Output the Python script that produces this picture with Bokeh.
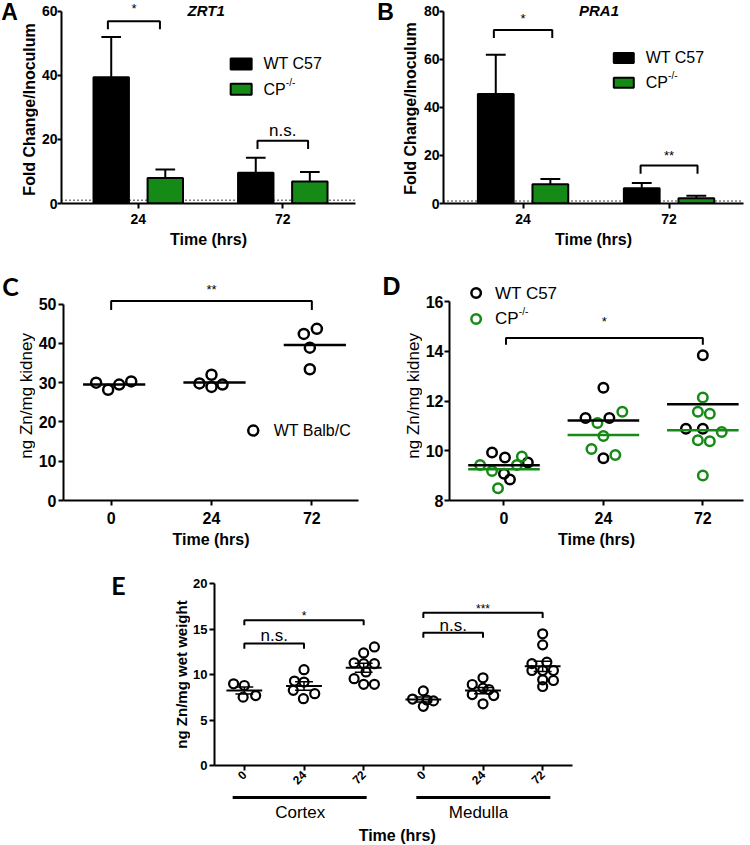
import math
import numpy as np
from bokeh.plotting import figure
from bokeh.layouts import column, row
from bokeh.models import Range1d, FixedTicker, Span
from bokeh.embed import file_html
from bokeh.resources import INLINE
from bokeh.core.properties import value

FONT = "Liberation Sans"
GREEN = "#168a16"

# ---------------- data ----------------
# Panels A / B : fold change / inoculum (mean, SEM)
bar_times = ["24", "72"]
zrt1_wt = [39.4, 9.6]
zrt1_wt_sem = [12.6, 4.7]
zrt1_cp = [8.0, 6.9]
zrt1_cp_sem = [2.6, 2.9]
pra1_wt = [45.6, 6.3]
pra1_wt_sem = [16.3, 2.2]
pra1_cp = [8.0, 2.2]
pra1_cp_sem = [2.2, 1.0]

# Panel C : WT Balb/C kidney zinc
times = ["0", "24", "72"]
balbc = [[30.0, 28.2, 29.5, 30.3],
         [29.8, 32.0, 28.9, 29.5],
         [42.4, 43.7, 38.9, 33.4]]
balbc_jit = [[-0.15, -0.03, 0.08, 0.20],
             [-0.12, 0.0, 0.0, 0.11],
             [-0.08, 0.05, -0.02, -0.02]]

# Panel D : WT C57 vs CP-/- kidney zinc
c57 = [[9.93, 9.73, 9.53, 9.08, 8.85],
       [12.54, 11.32, 11.32, 9.70],
       [13.85, 10.89, 10.89]]
c57_jit = [[-0.12, 0.01, 0.24, 0.0, 0.06],
           [0.0, -0.18, 0.06, 0.0],
           [0.0, -0.17, 0.0]]
cpko = [[9.43, 9.19, 9.77, 9.43, 8.49],
        [11.12, 11.57, 10.60, 10.07, 9.83],
        [12.15, 11.57, 11.49, 10.43, 10.39, 10.76, 9.01]]
cpko_jit = [[-0.24, -0.12, 0.18, 0.13, -0.06],
            [-0.06, 0.19, 0.0, -0.12, 0.12],
            [0.0, -0.05, 0.07, -0.05, 0.07, 0.19, 0.0]]

# Panel E : cortex / medulla zinc
e_regions = ["Cortex", "Medulla"]
e_times = ["0", "24", "72", "0", "24", "72"]
e_vals = [[8.98, 8.79, 7.51, 7.69],
          [10.53, 9.28, 9.17, 8.26, 7.34, 7.89],
          [13.03, 12.37, 11.27, 11.19, 11.19, 10.28, 9.54, 8.92, 8.92],
          [8.2, 7.3, 7.1, 7.2, 6.5],
          [9.64, 8.9, 8.5, 8.35, 7.8, 7.69, 6.78],
          [14.47, 13.26, 11.35, 10.44, 10.44, 10.44, 9.42, 9.34, 8.68, 11.2]]
e_jit = [[-0.18, 0.0, -0.02, 0.19],
         [0.0, -0.16, 0.0, -0.18, -0.01, 0.18],
         [0.18, 0.0, -0.16, 0.0, 0.18, 0.04, -0.16, 0.0, 0.18],
         [0.0, -0.18, 0.17, 0.06, 0.0],
         [0.0, -0.18, 0.0, 0.1, -0.18, 0.18, 0.0],
         [0.0, 0.0, 0.07, -0.18, 0.0, 0.18, 0.0, 0.18, 0.0, -0.18]]

# significance annotations: (x0, x1, bracket y, tick end y, label, label y)
sig_a = [(-0.21, 0.15, 56.9, 54.4, "*", 61.0), (0.825, 1.175, 19.6, 17.0, "n.s.", 22.9)]
sig_b = [(-0.20, 0.20, 72.2, 68.9, "*", 77.0), (0.805, 1.195, 15.8, 12.4, "**", 19.9)]
sig_c = [(0.0, 2.0, 50.8, 48.5, "**", 53.8)]
sig_d = [(0.02, 2.0, 14.54, 14.27, "*", 15.2)]
sig_e = [(0, 2, 15.96, 15.4, "*", 16.45), (0, 1, 13.4, 12.84, "n.s.", 14.3),
         (3, 5, 16.78, 16.2, "***", 17.25), (3, 4, 14.58, 14.03, "n.s.", 15.35)]


# ---------------- helpers ----------------
def make_fig(w, h, xr, yr, mbl, mbr, mbt, mbb):
    p = figure(width=w, height=h, x_range=Range1d(*xr), y_range=Range1d(*yr),
               output_backend="svg", toolbar_location=None, tools="",
               min_border_left=mbl, min_border_right=mbr,
               min_border_top=mbt, min_border_bottom=mbb)
    p.grid.visible = False
    p.outline_line_color = None
    p.background_fill_color = "white"
    p.border_fill_color = "white"
    for ax in p.axis:
        ax.axis_line_width = 2
        ax.axis_line_color = "black"
        ax.major_tick_line_width = 2
        ax.major_tick_line_color = "black"
        ax.major_tick_in = 0
        ax.major_tick_out = 5
        ax.minor_tick_line_color = None
        ax.major_label_text_font = FONT
        ax.major_label_text_font_style = "bold"
        ax.major_label_text_color = "black"
        ax.axis_label_text_font = FONT
        ax.axis_label_text_color = "black"
        ax.axis_label_text_font_style = "bold"
    return p


def strip(w, h, mbt, mbb, s, cx, cy, ylab, ylab_x, ylab_y, ylab_size, ylab_style,
          size="25px", font=FONT):
    """blank figure to the left of a panel: carries the panel letter and the rotated
    y-axis title.  Its frame is aligned with the neighbouring plot's frame, so its
    ranges are expressed in pixels (y measured from the figure bottom)."""
    p = figure(width=w, height=h, x_range=Range1d(0, w), y_range=Range1d(mbb, h - mbt),
               output_backend="svg", toolbar_location=None, tools="",
               x_axis_type=None, y_axis_type=None,
               min_border_left=0, min_border_right=0, min_border_top=mbt, min_border_bottom=mbb)
    p.grid.visible = False
    p.outline_line_color = None
    p.text(x=[cx], y=[h - cy], text=[s], text_font=value(font), text_font_size=value(size),
           text_font_style=value("bold"), text_align=value("center"),
           text_baseline=value("middle"), text_color=value("black"))
    p.text(x=[ylab_x], y=[h - ylab_y], text=[ylab], angle=math.pi / 2,
           text_font=value(FONT), text_font_size=value(ylab_size),
           text_font_style=value(ylab_style), text_align=value("center"),
           text_baseline=value("middle"), text_color=value("black"))
    return p


def txt(p, x, y, s, size, style="normal", align="center", font=FONT,
        color="black", x_off=0, y_off=0):
    p.text(x=[x], y=[y], text=[s], text_font=value(font), text_font_size=value(size),
           text_font_style=value(style), text_align=value(align),
           text_baseline=value("middle"), text_color=value(color),
           x_offset=value(x_off), y_offset=value(y_off))


def brackets(p, sigs, star_size="13px", ns_size="17px"):
    for x0, x1, y, yd, lab, ly in sigs:
        p.line(x=[x0, x0, x1, x1], y=[yd, y, y, yd], line_color="black", line_width=2)
        size = ns_size if lab == "n.s." else star_size
        txt(p, (x0 + x1) / 2, ly, lab, size)


def cp_text(p, x, y, size=16, sup=10):
    txt(p, x, y, "CP", f"{size}px", align="left")
    txt(p, x, y, "-/-", f"{sup}px", align="left", x_off=size * 1.40, y_off=-size * 0.42)


def bar_panel(p, wt, wt_sem, cpv, cp_sem, off=0.187, bw=0.245, capw=0.068):
    x = np.arange(len(wt), dtype=float)
    p.add_layout(Span(location=1, dimension="width", line_color="black",
                      line_width=1.5, line_dash="1 3", level="underlay"))
    wt = np.array(wt); cpv = np.array(cpv)
    wt_top = wt + np.array(wt_sem)
    cp_top = cpv + np.array(cp_sem)
    for xs, top, etop, fill in ((x - off, wt, wt_top, "black"), (x + off, cpv, cp_top, GREEN)):
        p.segment(x0=xs, y0=top, x1=xs, y1=etop, line_color="black", line_width=2)
        p.segment(x0=xs - capw, y0=etop, x1=xs + capw, y1=etop, line_color="black", line_width=2)
        p.vbar(x=xs, top=top, bottom=0, width=bw, fill_color=fill, line_color="black",
               line_width=2)


def cat_axis(p, labels, size):
    p.xaxis.ticker = FixedTicker(ticks=list(range(len(labels))))
    p.xaxis.major_label_overrides = {i: l for i, l in enumerate(labels)}
    p.xaxis.major_label_text_font_size = size


def setup_axes(p, yticks, ybounds, tick_size, y_out, y_std, x_std, x_lstd):
    p.yaxis.ticker = FixedTicker(ticks=yticks)
    p.yaxis.bounds = ybounds
    p.yaxis.major_tick_out = y_out
    p.yaxis.major_label_text_font_size = tick_size
    p.yaxis.major_label_standoff = y_std
    p.xaxis.major_label_standoff = x_std
    if x_lstd is not None:
        p.xaxis.axis_label = "Time (hrs)"
        p.xaxis.axis_label_text_font_size = "16px"
        p.xaxis.axis_label_standoff = x_lstd


# ---------------- Panel A ----------------
sA = strip(38, 250, 0, 45, "A", 9, 11.5, "Fold Change/Inoculum", 28.5, 110, "16px", "bold",
           size="23px")
pA = make_fig(337, 250, (-0.531, 1.503), (0, 63.40), 20, 20, 0, 45)
bar_panel(pA, zrt1_wt, zrt1_wt_sem, zrt1_cp, zrt1_cp_sem)
cat_axis(pA, bar_times, "14px")
setup_axes(pA, [0, 20, 40, 60], (0, 60), "14px", 4, 0, 5, 4)
brackets(pA, sig_a)
txt(pA, 0.47, 60.3, "ZRT1", "15px", style="bold italic")
pA.rect(x=[0.712, 0.712], y=[43.6, 35.7], width=21, height=11, width_units="screen",
        height_units="screen", fill_color=["black", GREEN], line_color="black", line_width=2)
txt(pA, 0.866, 43.6, "WT C57", "16px", align="left")
cp_text(pA, 0.866, 35.7)

# ---------------- Panel B ----------------
sB = strip(45, 250, 0, 45, "B", 10, 11.5, "Fold Change/Inoculum", 35, 109, "16px", "bold",
           size="23px")
pB = make_fig(330, 250, (-0.545, 1.510), (0, 84.53), 23, 7, 0, 45)
bar_panel(pB, pra1_wt, pra1_wt_sem, pra1_cp, pra1_cp_sem)
cat_axis(pB, bar_times, "14px")
setup_axes(pB, [0, 20, 40, 60, 80], (0, 80), "14px", 4, 0, 5, 4)
brackets(pB, sig_b)
txt(pB, 0.52, 80.4, "PRA1", "15px", style="bold italic")
pB.rect(x=[0.69, 0.69], y=[60.6, 50.3], width=20, height=10, width_units="screen",
        height_units="screen", fill_color=["black", GREEN], line_color="black", line_width=2)
txt(pB, 0.84, 60.6, "WT C57", "16px", align="left")
cp_text(pB, 0.84, 50.3)

# ---------------- Panel C ----------------
sC = strip(35, 300, 18, 47, "C", 10, 36, "ng Zn/mg kidney", 25.5, 147, "17px", "normal",
           font="Lato")
pC = make_fig(340, 300, (-0.475, 2.465), (0, 59.05), 26, 17, 18, 47)
cat_axis(pC, times, "16px")
setup_axes(pC, [0, 10, 20, 30, 40, 50], (0, 50), "16px", 5, 2, 6, 4)
for i, (vals, jit) in enumerate(zip(balbc, balbc_jit)):
    pC.scatter(x=[i + j for j in jit], y=vals, marker="circle", size=10, fill_color=None,
               line_color="black", line_width=2.5)
    m = float(np.mean(vals))
    pC.segment(x0=[i - 0.28], y0=[m], x1=[i + 0.34], y1=[m], line_color="black", line_width=2.5)
brackets(pC, sig_c)
pC.scatter(x=[1.416], y=[17.8], marker="circle", size=10, fill_color=None,
           line_color="black", line_width=2.5)
txt(pC, 1.62, 17.8, "WT Balb/C", "16px", align="left")

# ---------------- Panel D ----------------
sD = strip(47, 300, 18, 47, "D", 16, 36, "ng Zn/mg kidney", 37.5, 147, "17px", "normal")
pD = make_fig(328, 300, (-0.548, 2.409), (8, 17.34), 24, 7, 18, 47)
cat_axis(pD, times, "16px")
setup_axes(pD, [8, 10, 12, 14, 16], (8, 16), "16px", 5, 1, 6, 4)
for i in range(3):
    pD.scatter(x=[i + j for j in c57_jit[i]], y=c57[i], marker="circle", size=9.5,
               fill_color=None, line_color="black", line_width=2.5)
    pD.scatter(x=[i + j for j in cpko_jit[i]], y=cpko[i], marker="circle", size=9.5,
               fill_color=None, line_color=GREEN, line_width=2.5)
for i in range(3):
    mb = float(np.mean(c57[i]))
    mg = float(np.mean(cpko[i]))
    pD.segment(x0=[i - 0.36], y0=[mb], x1=[i + 0.36], y1=[mb], line_color="black", line_width=2.5)
    pD.segment(x0=[i - 0.36], y0=[mg], x1=[i + 0.36], y1=[mg], line_color=GREEN, line_width=2.5)
brackets(pD, sig_d)
pD.scatter(x=[-0.28, -0.28], y=[16.35, 15.31], marker="circle", size=9.5, fill_color=None,
           line_color=["black", GREEN], line_width=2.5)
txt(pD, -0.09, 16.35, "WT C57", "17px", align="left")
cp_text(pD, -0.09, 15.31, size=17, sup=10)

# ---------------- Panel E ----------------
sE = strip(190, 243, 18, 28, "E", 118, 34, "ng Zn/mg wet weight", 180.5, 124, "15px", "bold",
           font="Lato")
pE = make_fig(560, 243, (-0.5, 5.5), (0, 21.65), 23, 178, 18, 28)
cat_axis(pE, e_times, "12px")
pE.xaxis.major_label_orientation = math.pi / 4
setup_axes(pE, [0, 5, 10, 15, 20], (0, 20), "13px", 5, 2, 2, None)
for i, (vals, jit) in enumerate(zip(e_vals, e_jit)):
    pE.scatter(x=[i + j for j in jit], y=vals, marker="circle", size=9, fill_color=None,
               line_color="black", line_width=2.2)
for i, vals in enumerate(e_vals):
    m = float(np.mean(vals))
    s = float(np.std(vals, ddof=1) / np.sqrt(len(vals)))
    pE.segment(x0=[i - 0.3], y0=[m], x1=[i + 0.3], y1=[m], line_color="black", line_width=2)
    pE.segment(x0=[i, i - 0.15, i - 0.15], y0=[m - s, m + s, m - s],
               x1=[i, i + 0.15, i + 0.15], y1=[m + s, m + s, m - s],
               line_color="black", line_width=1.5)
brackets(pE, sig_e, star_size="12px")

# E group labels beneath the axis
pE2 = make_fig(750, 52, (-0.5, 5.5), (0, 1), 213, 178, 0, 0)
for ax in pE2.axis:
    ax.visible = False
pE2.segment(x0=[-0.18, 2.89], y0=[0.923, 0.923], x1=[2.06, 5.13], y1=[0.923, 0.923],
            line_color="black", line_width=3)
txt(pE2, 0.95, 0.64, e_regions[0], "17px")
txt(pE2, 3.93, 0.64, e_regions[1], "17px")
txt(pE2, 2.57, 0.19, "Time (hrs)", "16px", style="bold")

layout = column(row(sA, pA, sB, pB), row(sC, pC, sD, pD), row(sE, pE), pE2)
open("out.html", "w").write(file_html(layout, INLINE))
